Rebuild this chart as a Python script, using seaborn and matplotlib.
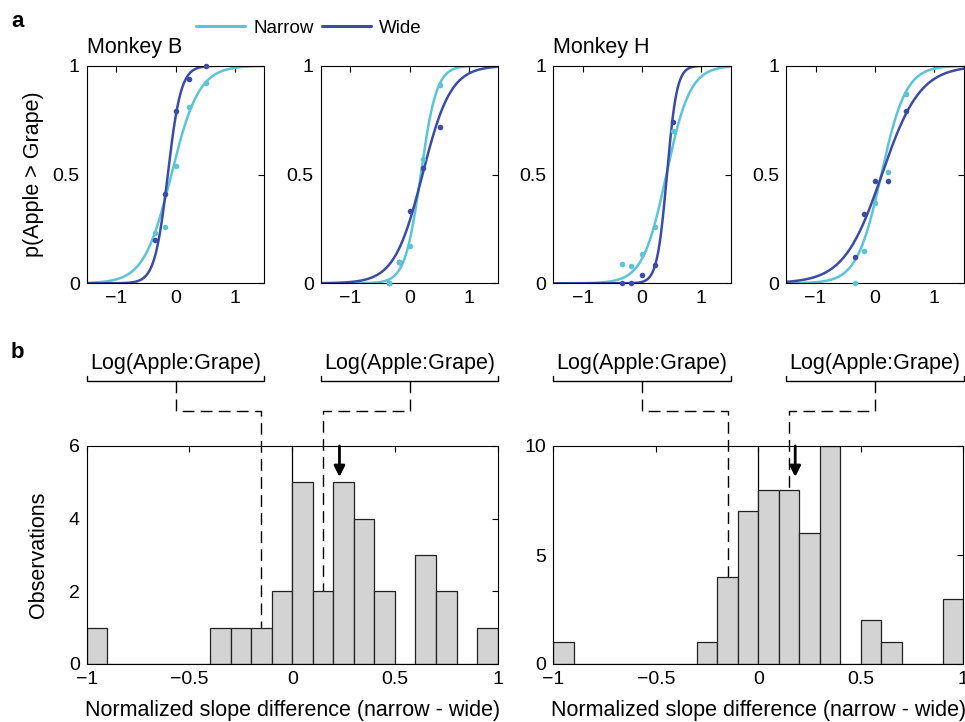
import matplotlib
matplotlib.use("Agg")
import matplotlib.pyplot as plt
import numpy as np
import pandas as pd
import seaborn as sns
from matplotlib.lines import Line2D
from matplotlib.ticker import FuncFormatter

# Colours
NARROW_COLOR = "#5cc3d8"
WIDE_COLOR = "#3a4ca6"

########
# DATA #
########
# log(apple:grape) offer values of the dots (same in all four panels)
STIM_X = [-0.34, -0.18, 0.0, 0.22, 0.52]

PANEL_TITLES = ["Monkey B", "", "Monkey H", ""]

# choice proportions p(Apple > Grape), one row per panel
NARROW_P = [
    [0.23, 0.26, 0.54, 0.81, 0.92],
    [0.00, 0.10, 0.17, 0.57, 0.91],
    [0.09, 0.08, 0.135, 0.26, 0.70],
    [0.00, 0.15, 0.37, 0.51, 0.87],
]
WIDE_P = [
    [0.20, 0.41, 0.79, 0.94, 1.00],
    [0.00, 0.10, 0.33, 0.53, 0.72],
    [0.00, 0.00, 0.04, 0.085, 0.74],
    [0.12, 0.32, 0.47, 0.47, 0.79],
]

# logistic fits (centre, slope) per panel
NARROW_CENTER = [-0.07, 0.19, 0.41, 0.11]
NARROW_SLOPE = [4.3, 7.5, 5.0, 4.8]
WIDE_CENTER = [-0.13, 0.22, 0.42, 0.12]
WIDE_SLOPE = [9.0, 4.2, 12.0, 3.1]

# histograms of normalized slope difference, bins of 0.1 from -1 to 1
BIN_EDGES = [round(-1 + 0.1 * i, 1) for i in range(21)]
COUNTS_B = [1, 0, 0, 0, 0, 0, 1, 1, 1, 2, 5, 2, 5, 4, 2, 0, 3, 2, 0, 1]
COUNTS_H = [1, 0, 0, 0, 0, 0, 0, 1, 4, 7, 8, 8, 6, 10, 0, 2, 1, 0, 0, 3]
HIST_YMAX = [6, 10]
HIST_YTICKS = [[0, 2, 4, 6], [0, 5, 10]]
MEAN_DIFF = [0.23, 0.18]          # arrows
DASH_X = [[-0.15, 0.15], [-0.15, 0.15]]

FS = 15.5      # labels
TFS = 14       # tick labels

sns.set_theme(style="white")
plt.rcParams["font.family"] = ["Liberation Sans", "DejaVu Sans"]
plt.rcParams["axes.edgecolor"] = "black"
plt.rcParams["axes.linewidth"] = 0.8
plt.rcParams["text.color"] = "black"
plt.rcParams["axes.labelcolor"] = "black"

W, H = 965, 722
fig = plt.figure(figsize=(W / 100, H / 100), dpi=100)


def px_axes(left, top, right, bottom):
    return fig.add_axes([left / W, 1 - bottom / H, (right - left) / W, (bottom - top) / H])


def fmt(v, pos):
    return f"{v:g}".replace("-", "\u2212")


def style_ticks(ax):
    ax.tick_params(direction="in", top=True, right=True, length=4, width=0.8,
                   labelsize=TFS, colors="black", pad=5)
    ax.xaxis.set_major_formatter(FuncFormatter(fmt))
    ax.yaxis.set_major_formatter(FuncFormatter(fmt))


############################
# TOP: PSYCHOMETRIC CURVES #
############################
top_lefts = [86.7, 320.7, 553.3, 786.0]
top_axes = []
xs = np.linspace(-1.5, 1.5, 301)
for i, left in enumerate(top_lefts):
    ax = px_axes(left, 65.7, left + 177.6, 283.3)
    top_axes.append(ax)
    fits = pd.DataFrame({
        "x": np.concatenate([xs, xs]),
        "p": np.concatenate([
            1 / (1 + np.exp(-NARROW_SLOPE[i] * (xs - NARROW_CENTER[i]))),
            1 / (1 + np.exp(-WIDE_SLOPE[i] * (xs - WIDE_CENTER[i]))),
        ]),
        "cond": ["Narrow"] * len(xs) + ["Wide"] * len(xs),
    })
    sns.lineplot(data=fits, x="x", y="p", hue="cond",
                 palette={"Narrow": NARROW_COLOR, "Wide": WIDE_COLOR},
                 linewidth=1.8, legend=False, ax=ax)
    sns.scatterplot(x=STIM_X, y=WIDE_P[i], color=WIDE_COLOR, s=16, linewidth=0,
                    ax=ax, clip_on=False, zorder=3)
    sns.scatterplot(x=STIM_X, y=NARROW_P[i], color=NARROW_COLOR, s=16, linewidth=0,
                    ax=ax, clip_on=False, zorder=3)
    ax.set_xlim(-1.5, 1.5)
    ax.set_ylim(0, 1)
    ax.set_xticks([-1, 0, 1])
    ax.set_yticks([0, 0.5, 1])
    ax.set_xlabel("")
    ax.set_ylabel("")
    style_ticks(ax)
    if PANEL_TITLES[i]:
        fig.text(left / W, 1 - 53 / H, PANEL_TITLES[i], fontsize=FS, va="baseline")

top_axes[0].set_ylabel("p(Apple > Grape)", fontsize=FS, labelpad=6)

handles = [Line2D([], [], color=NARROW_COLOR, lw=2.2), Line2D([], [], color=WIDE_COLOR, lw=2.2)]
fig.legend(handles, ["Narrow", "Wide"], loc="center", bbox_to_anchor=(309 / W, 1 - 28 / H),
           ncol=2, frameon=False, fontsize=13.5, handlelength=2.6, handletextpad=0.45,
           columnspacing=0.45)

fig.text(11 / W, 1 - 27 / H, "a", fontsize=16, fontweight="bold", va="baseline")
fig.text(11 / W, 1 - 358 / H, "b", fontsize=16, fontweight="bold", va="baseline")

##############
# HISTOGRAMS #
##############
hist_pos = [(86.7, 497.7), (553.3, 963.3)]
centers = [round(e + 0.05, 2) for e in BIN_EDGES[:-1]]
hist_axes = []
for j, (counts, (l, r)) in enumerate(zip([COUNTS_B, COUNTS_H], hist_pos)):
    ax = px_axes(l, 446, r, 664)
    hist_axes.append(ax)
    sns.histplot(x=centers, weights=counts, bins=BIN_EDGES, color="#d3d3d3",
                 edgecolor="#222222", linewidth=0.9, alpha=1, ax=ax, zorder=2)
    ax.axvline(0, color="black", lw=0.9, zorder=0.5)
    ax.set_xlim(-1, 1)
    ax.set_ylim(0, HIST_YMAX[j])
    ax.set_xticks([-1, -0.5, 0, 0.5, 1])
    ax.set_yticks(HIST_YTICKS[j])
    ax.set_ylabel("")
    ax.set_xlabel("Normalized slope difference (narrow - wide)", fontsize=FS, labelpad=9)
    style_ticks(ax)
    ymax = HIST_YMAX[j]
    ax.annotate("", xy=(MEAN_DIFF[j], ymax * (1 - 31 / 218)), xytext=(MEAN_DIFF[j], ymax),
                arrowprops=dict(arrowstyle="-|>", color="black", lw=2.0,
                                mutation_scale=16, shrinkA=0, shrinkB=0),
                annotation_clip=False, zorder=4)

hist_axes[0].set_ylabel("Observations", fontsize=FS, labelpad=14)

# brackets showing the x range of the panels above, linked by dashed lines
inv = fig.transFigure.inverted()


def fx(ax, x):
    return inv.transform(ax.transData.transform((x, 0)))[0]


y_text = 1 - 369 / H
y_tip = 1 - 376 / H
y_line = 1 - 381 / H
y_corner = 1 - 411 / H
y_bottom = 1 - 664 / H
for j, hax in enumerate(hist_axes):
    for k in range(2):
        tax = top_axes[2 * j + k]
        xl, xc, xr = fx(tax, -1.5), fx(tax, 0), fx(tax, 1.5)
        fig.add_artist(Line2D([xl, xl, xr, xr], [y_tip, y_line, y_line, y_tip],
                              color="black", lw=1.0, transform=fig.transFigure))
        fig.text((xl + xr) / 2, y_text, "Log(Apple:Grape)", fontsize=FS,
                 ha="center", va="baseline")
        xd = fx(hax, DASH_X[j][k])
        dash = Line2D([xc, xc, xd, xd], [y_line, y_corner, y_corner, y_bottom],
                      color="black", lw=1.0, linestyle=(0, (8.5, 4.5)),
                      transform=fig.transFigure, clip_on=False, zorder=0.6)
        hax.add_artist(dash)

fig.savefig("out.png", dpi=100)
